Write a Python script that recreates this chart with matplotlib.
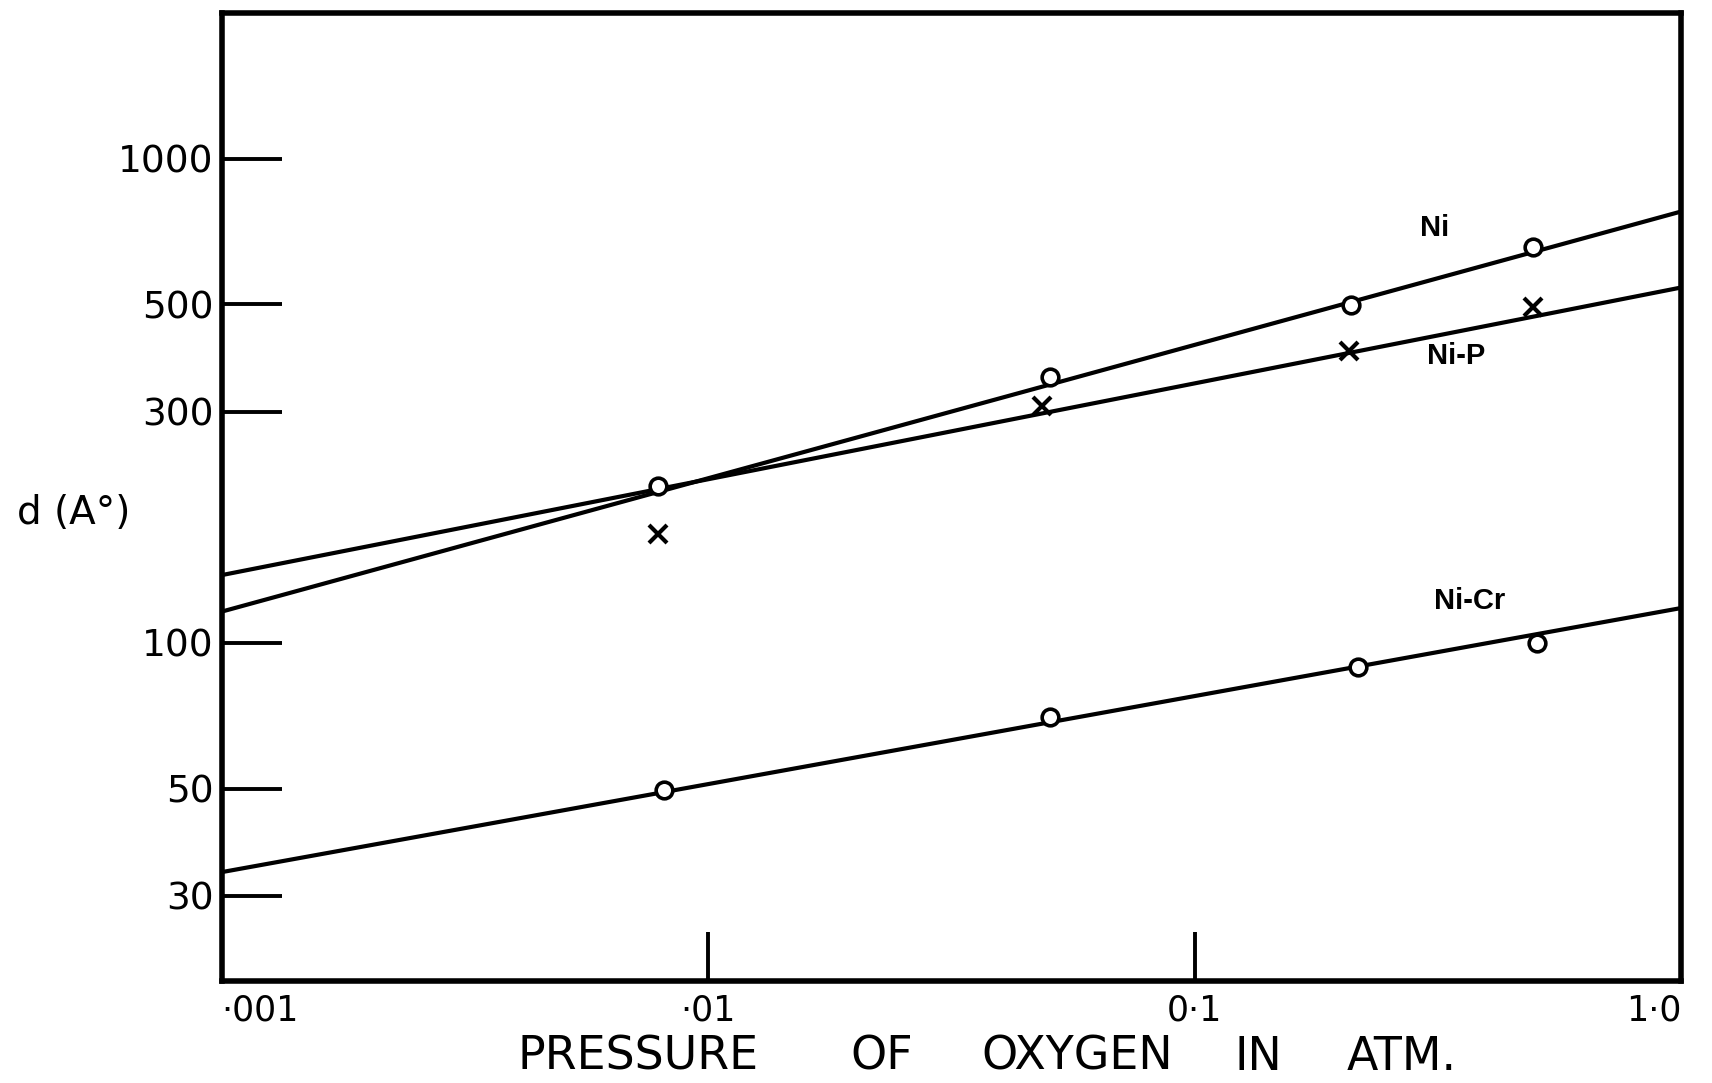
import numpy as np
import matplotlib
matplotlib.use('Agg')
import matplotlib.pyplot as plt

# data (pressure in atm, d in Angstrom)
ni_p = [0.00787, 0.0504, 0.210, 0.496]
ni_d = [211, 354, 499, 656]

nip_p = [0.0079, 0.0486, 0.208, 0.497]
nip_d = [168, 309, 401, 493]

nicr_p = [0.0081, 0.0504, 0.217, 0.506]
nicr_d = [49.6, 70.2, 89.2, 100]

# fitted straight lines, values at the two ends of the axis
line_p = [0.001, 1.0]
ni_line = [116, 778]
nip_line = [138, 542]
nicr_line = [33.6, 118]

y_ticks = [30, 50, 100, 300, 500, 1000]
y_labels = ['30', '50', '100', '300', '500', '1000']
x_ticks = [0.001, 0.01, 0.1, 1.0]
x_labels = ['·001', '·01', '0·1', '1·0']
xlabel_words = ['PRESSURE', 'OF', 'OXYGEN', 'IN', 'ATM.']

plt.rcParams['font.family'] = ['DejaVu Sans']

fig = plt.figure(figsize=(17.12, 10.83), dpi=100)
ax = fig.add_axes([0.1295, 0.094, 0.8525, 0.894])

lw = 3.0
ax.plot(line_p, ni_line, color='black', linewidth=lw)
ax.plot(line_p, nip_line, color='black', linewidth=lw)
ax.plot(line_p, nicr_line, color='black', linewidth=lw)

ax.plot(ni_p, ni_d, 'o', ms=12, mfc='white', mec='black', mew=2.6)
ax.plot(nip_p, nip_d, 'x', ms=13, mec='black', mew=3.0)
ax.plot(nicr_p, nicr_d, 'o', ms=12, mfc='white', mec='black', mew=2.6)

ax.set_xscale('log')
ax.set_yscale('log')
ax.set_xlim(0.001, 1.0)
ax.set_ylim(20, 2000)

ax.minorticks_off()
ax.set_yticks(y_ticks)
ax.set_yticklabels(y_labels, fontsize=27)
ax.set_xticks(x_ticks)
ax.set_xticklabels(x_labels, fontsize=25)
ax.tick_params(axis='y', direction='in', length=43, width=2.8, pad=6)
ax.tick_params(axis='x', direction='in', length=35, width=2.8, pad=9)
xl = ax.get_xticklabels()
xl[0].set_horizontalalignment('left')
xl[-1].set_horizontalalignment('right')

for s in ax.spines.values():
    s.set_linewidth(4.0)

# curve labels
lab = dict(fontsize=21, fontweight='bold', family='Liberation Sans', va='center')
ax.text(0.29, 720, 'Ni', **lab)
ax.text(0.30, 392, 'Ni-P', **lab)
ax.text(0.31, 122, 'Ni-Cr', **lab)

# axis titles
fig.text(0.043, 0.526, 'd (A°)', fontsize=28, ha='center', va='center')
word_x = [638, 882, 1077, 1258, 1402]
for w, px in zip(xlabel_words, word_x):
    fig.text(px / 1712, 0.024, w, fontsize=33, ha='center', va='center')

fig.savefig('out.png', dpi=100)
